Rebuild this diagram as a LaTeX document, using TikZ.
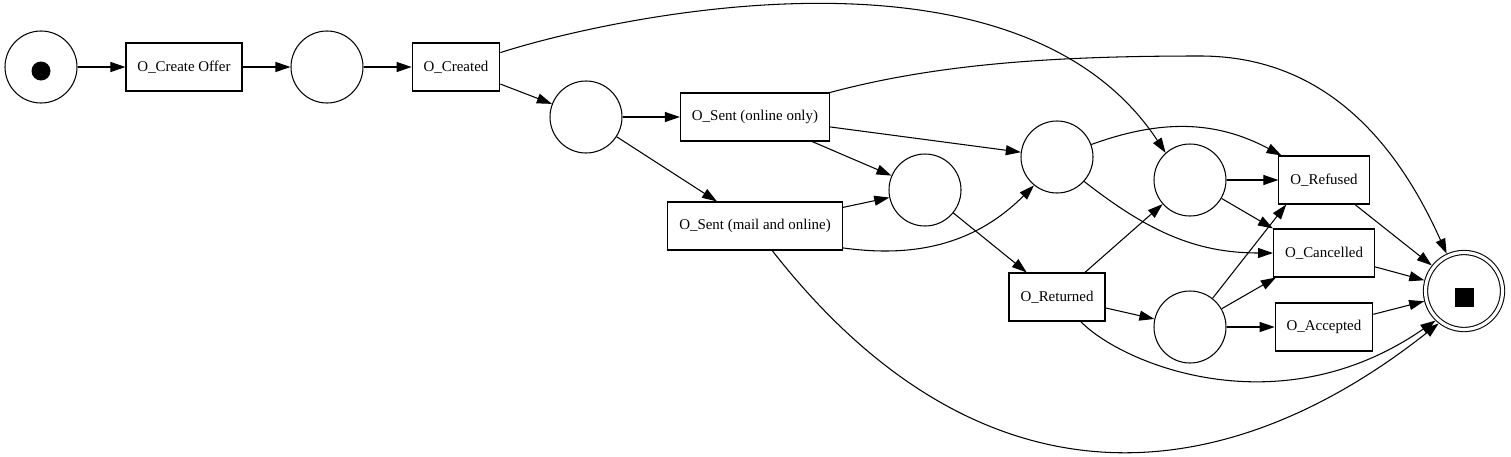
\documentclass[tikz,border=0pt]{standalone}
\usepackage{fontspec}
\setmainfont{Liberation Serif}
\usepackage{tikz}
\usetikzlibrary{arrows.meta, positioning}

\begin{document}
\begin{tikzpicture}[semithick, >={Triangle[length=3mm, width=2mm]}, font=\fontsize{8.5}{10}\selectfont]

		% Define net styles
		\tikzstyle{place} = [circle, draw, minimum size=1.44cm, inner sep=0pt]
		\tikzstyle{trans} = [rectangle, draw, minimum height=0.96cm, inner xsep=0.23cm, text centered]
		\tikzstyle{final} = [circle, draw, double, double distance=1.8pt, minimum size=1.54cm, inner sep=0pt, outer sep=1.5pt]

		\useasboundingbox (0,0) rectangle (30.22,-9.12);

		% Nodes
		\node[place] (start) at (0.82,-1.34) {};
		\node[circle, fill=black, minimum size=0.38cm, inner sep=0pt] (token) at (0.82,-1.42) {};
		\node[trans, right of=start, node distance=2.86cm] (createoffer) {O\_Create Offer};
		\node[place, right of=createoffer, node distance=2.86cm] (p1) {};
		\node[trans, right of=p1, node distance=2.58cm] (created) {O\_Created};
		\node[place] (p2) at (11.72,-2.34) {};
		\node[trans, right of=p2, node distance=3.38cm] (sentonline) {O\_Sent (online only)};
		\node[trans, below of=sentonline, node distance=2.18cm] (sentmail) {O\_Sent (mail and online)};
		\node[place] (p3) at (18.50,-3.80) {};
		\node[place] (p4) at (21.14,-3.14) {};
		\node[trans, below of=p4, node distance=2.8cm] (returned) {O\_Returned};
		\node[place] (p5) at (23.80,-3.60) {};
		\node[place, below of=p5, node distance=2.94cm] (p6) {};
		\node[trans, right of=p5, node distance=2.68cm] (refused) {O\_Refused};
		\node[trans, right of=p6, node distance=2.68cm] (accepted) {O\_Accepted};
		\node[trans] (cancelled) at (26.48,-5.06) {O\_Cancelled};
		\node[final] (end) at (29.28,-5.82) {};
		\node[rectangle, fill=black, minimum size=0.38cm, inner sep=0pt] (endmark) at (29.28,-5.94) {};

		% Arrows
		\draw[->] (start) -- (createoffer);
		\draw[->] (createoffer) -- (p1);
		\draw[->] (p1) -- (created);
		\draw[->] (created) -- (p2);
		\draw[->] (created.18) .. controls (12.16,-0.36) and (20.33,1.47) .. (p5.132);
		\draw[->] (p2) -- (sentonline);
		\draw[->] (p2) -- (sentmail);
		\draw[->] (sentonline.north east) .. controls (18.8,-1.26) and (21.2,-1.12) .. (24.0,-1.12) .. controls (26.6,-1.12) and (28.0,-3.0) .. (end.115);
		\draw[->] (sentonline) -- (p4);
		\draw[->] (sentonline) -- (p3);
		\draw[->] (sentmail) -- (p3);
		\draw[->] (sentmail.-14) to[out=-8, in=225] (p4.231);
		\draw[->] (sentmail.-55) .. controls (19.5,-10.2) and (24.3,-10.0) .. (end.232);
		\draw[->] (p3) -- (returned);
		\draw[->] (p4.20) to[out=20, in=152] (refused.150);
		\draw[->] (p4.-42) to[out=-38, in=180] (cancelled.west);
		\draw[->] (returned) -- (p5);
		\draw[->] (returned) -- (p6);
		\draw[->] (returned.-46) .. controls (22.44,-7.28) and (25.58,-8.58) .. (end.226);
		\draw[->] (p5) -- (refused);
		\draw[->] (p5) -- (cancelled.north west);
		\draw[->] (p6) -- (refused.213);
		\draw[->] (p6) -- (cancelled.207);
		\draw[->] (p6) -- (accepted);
		\draw[->] (refused) -- (end);
		\draw[->] (cancelled) -- (end);
		\draw[->] (accepted) -- (end);

\end{tikzpicture}
\end{document}
